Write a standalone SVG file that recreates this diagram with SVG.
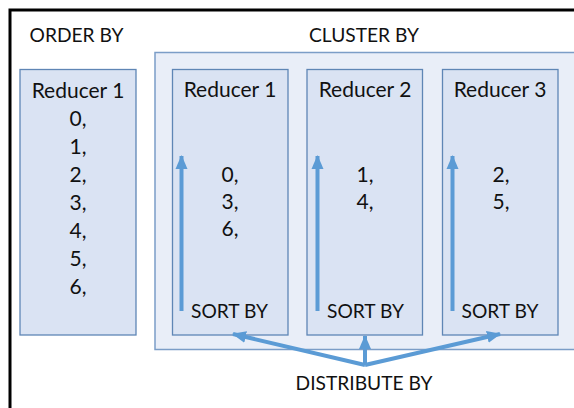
<svg xmlns="http://www.w3.org/2000/svg" width="574" height="408" viewBox="0 0 574 408">
<defs>
<marker id="ah" markerUnits="userSpaceOnUse" markerWidth="14" markerHeight="14" viewBox="0 0 14 14" refX="13" refY="7" orient="auto">
<path d="M0,1 L14,7 L0,13 Z" fill="#5b9bd5"/>
</marker>
<style>
.t{font-family:Lato,"Liberation Sans",sans-serif;font-size:21px;fill:#111;text-anchor:middle}
.u{font-size:19.2px}
.box{fill:#dae3f3;stroke:#5f86b5;stroke-width:1.3}
.ln{stroke:#5b9bd5;stroke-width:4;fill:none;marker-end:url(#ah)}
</style>
</defs>
<rect x="0" y="0" width="574" height="408" fill="#fff"/>
<rect x="10" y="10" width="600" height="450" fill="none" stroke="#000" stroke-width="3"/>
<text class="t u" x="76.5" y="42">ORDER BY</text>
<text class="t u" x="364" y="42">CLUSTER BY</text>
<g id="order-reducer1">
<rect class="box" x="20" y="69.5" width="116" height="265.5"/>
<text class="t" x="78" y="98">Reducer 1</text>
<text class="t" x="78" y="126">0,</text>
<text class="t" x="78" y="154">1,</text>
<text class="t" x="78" y="182">2,</text>
<text class="t" x="78" y="210">3,</text>
<text class="t" x="78" y="238">4,</text>
<text class="t" x="78" y="266">5,</text>
<text class="t" x="78" y="294">6,</text>
</g>
<g id="cluster">
<rect x="155" y="52.5" width="440" height="297" fill="#e9eef8" stroke="#7b9dc7" stroke-width="1.5"/>
</g>
<g id="cluster-reducer1">
<rect class="box" x="172.5" y="69.5" width="115.5" height="265.5"/>
<text class="t" x="230" y="97">Reducer 1</text>
<text class="t" x="230" y="182">0,</text>
<text class="t" x="230" y="209">3,</text>
<text class="t" x="230" y="236">6,</text>
<text class="t u" x="229.5" y="318">SORT BY</text>
</g>
<g id="cluster-reducer2">
<rect class="box" x="307" y="69.5" width="115.5" height="265.5"/>
<text class="t" x="365" y="97">Reducer 2</text>
<text class="t" x="365" y="182">1,</text>
<text class="t" x="365" y="209">4,</text>
<text class="t u" x="365.5" y="318">SORT BY</text>
</g>
<g id="cluster-reducer3">
<rect class="box" x="442.5" y="69.5" width="115.5" height="265.5"/>
<text class="t" x="500" y="97">Reducer 3</text>
<text class="t" x="501" y="182">2,</text>
<text class="t" x="501" y="209">5,</text>
<text class="t u" x="500" y="318">SORT BY</text>
</g>
<text class="t u" x="364" y="390">DISTRIBUTE BY</text>
<g id="connectors">
<line class="ln" x1="181.5" y1="311" x2="181.5" y2="156"/>
<line class="ln" x1="317.5" y1="311" x2="317.5" y2="156"/>
<line class="ln" x1="452.5" y1="311" x2="452.5" y2="156"/>
<line class="ln" x1="365" y1="365" x2="365" y2="336"/>
<line class="ln" x1="365" y1="365" x2="233" y2="334"/>
<line class="ln" x1="365" y1="365" x2="500" y2="334"/>
</g>
</svg>
